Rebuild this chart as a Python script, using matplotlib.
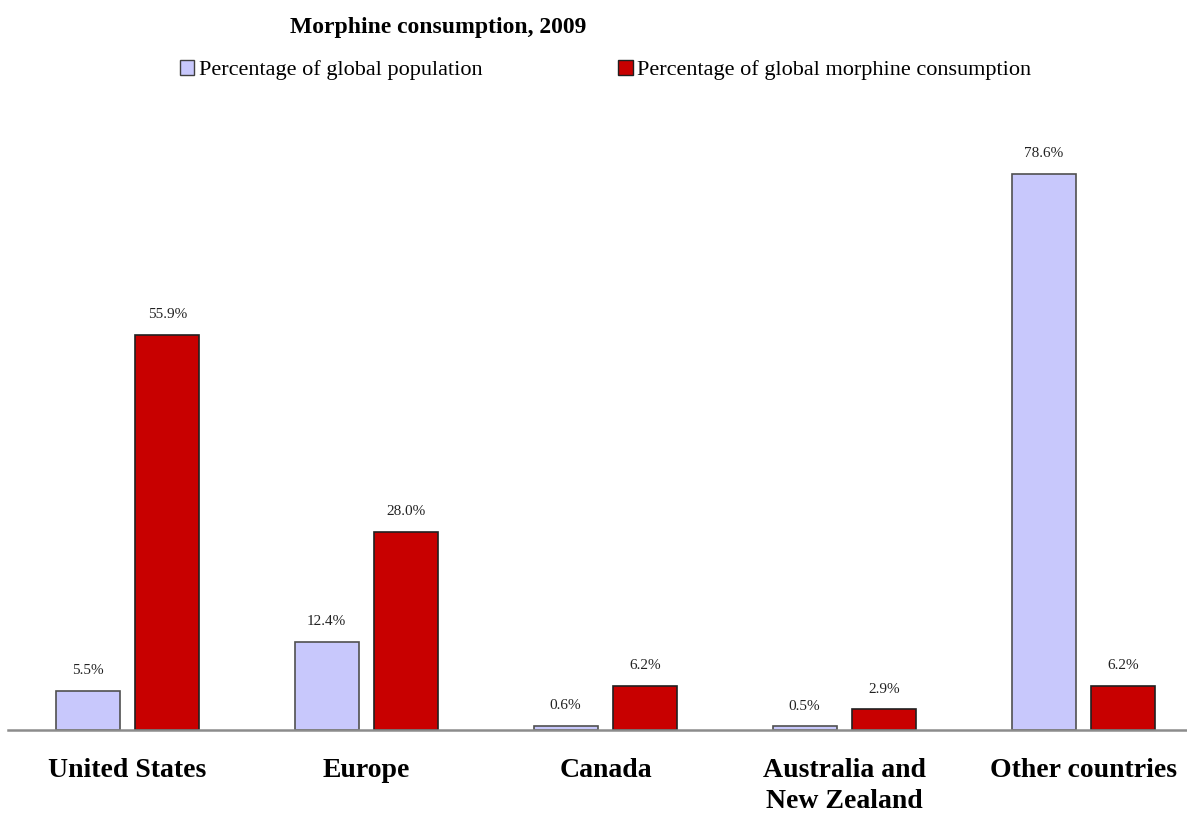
import numpy as np
import matplotlib
matplotlib.use("Agg")
from matplotlib import pyplot as plt
from matplotlib.patches import Patch

regions = ["United States", "Europe", "Canada", "Australia and\nNew Zealand", "Other countries"]
population = [5.5, 12.4, 0.6, 0.5, 78.6]
morphine = [55.9, 28.0, 6.2, 2.9, 6.2]

light = "#c8c8fc"
red = "#c80000"

plt.rcParams['font.family'] = ['Liberation Serif', 'DejaVu Serif']

W, H = 1187, 816
fig = plt.figure(figsize=(W / 100, H / 100), dpi=100)
# axes runs off the right edge like in the original
ax = fig.add_axes([8 / W, 86 / H, 1195 / W, 630 / H])

x = np.arange(len(regions))
bw = 0.268
off = 0.167
b1 = ax.bar(x - off, population, bw, color=light, edgecolor="#505050", linewidth=1.2)
b2 = ax.bar(x + off, morphine, bw, color=red, edgecolor="#202020", linewidth=1.2)

for rects, vals in [(b1, population), (b2, morphine)]:
    for r, v in zip(rects, vals):
        ax.annotate(f"{v:.1f}%", (r.get_x() + r.get_width() / 2, v),
                    xytext=(0, 10), textcoords="offset points",
                    ha="center", va="bottom", fontsize=11, color="#222222")

ax.set_xlim(-0.5, 4.5)
ax.set_ylim(0, 89.1)
ax.set_yticks([])
ax.set_xticks(x)
ax.set_xticklabels(regions, fontsize=20, fontweight="bold", va="top", linespacing=1.35)
ax.tick_params(axis="x", length=0, pad=20)
for s in ["top", "right", "left"]:
    ax.spines[s].set_visible(False)
ax.spines["bottom"].set_color("#8c8c8c")
ax.spines["bottom"].set_linewidth(1.8)

fig.text(438 / W, 1 - 28 / H, "Morphine consumption, 2009", ha="center", va="center",
         fontsize=17, fontweight="bold")

handles = [Patch(facecolor=light, edgecolor="#404040", label="Percentage of global population"),
           Patch(facecolor=red, edgecolor="#202020", label="Percentage of global morphine consumption")]
fig.legend(handles=handles, loc="center left", bbox_to_anchor=(180 / W, 1 - 70 / H), ncol=2,
           frameon=False, fontsize=16, handlelength=0.65, handleheight=0.65,
           handletextpad=0.2, columnspacing=6.1, borderpad=0, borderaxespad=0)

fig.savefig("out.png", dpi=100)
